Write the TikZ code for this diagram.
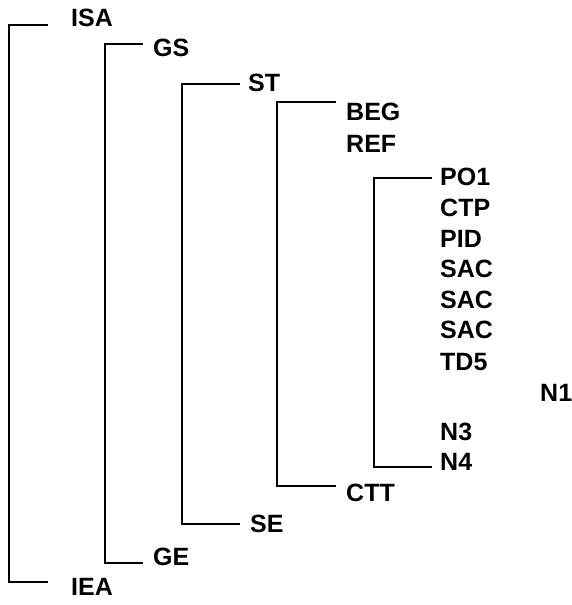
\documentclass[tikz,border=0pt]{standalone}
\usepackage{fontspec}
\setmainfont{Liberation Sans}
\begin{document}
\begin{tikzpicture}[x=1pt,y=-1pt,
  lbl/.style={anchor=west,inner sep=0pt,font=\fontsize{25}{25}\selectfont\bfseries},
  brk/.style={draw=black,line width=2pt}]
\useasboundingbox (0,0) rectangle (572,605);
% labels
\node[lbl] (isa) at (71,18) {ISA};
\node[lbl] (gs) at (153,48) {GS};
\node[lbl] (st) at (248,83) {ST};
\node[lbl] (beg) at (346,112) {BEG};
\node[lbl] (ref) at (346,144) {REF};
\node[lbl] (po1) at (440,177) {PO1};
\node[lbl] (ctp) at (440,208) {CTP};
\node[lbl] (pid) at (440,239) {PID};
\node[lbl] (sac1) at (440,269) {SAC};
\node[lbl] (sac2) at (440,300) {SAC};
\node[lbl] (sac3) at (440,330) {SAC};
\node[lbl] (td5) at (440,362) {TD5};
\node[lbl] (n1) at (540,393) {N1};
\node[lbl] (n3) at (440,432) {N3};
\node[lbl] (n4) at (440,462) {N4};
\node[lbl] (ctt) at (346,493) {CTT};
\node[lbl] (se) at (250,524) {SE};
\node[lbl] (ge) at (153,557) {GE};
\node[lbl] (iea) at (71,587) {IEA};
% bracket end points
\coordinate (b1t) at (48,25);   \coordinate (b1b) at (48,582);
\coordinate (b2t) at (143,43.5);\coordinate (b2b) at (143,563);
\coordinate (b3t) at (240,84);  \coordinate (b3b) at (240,524);
\coordinate (b4t) at (336,102); \coordinate (b4b) at (336,486);
\coordinate (b5t) at (432,178); \coordinate (b5b) at (432,467);
% brackets
\draw[brk] (b1t) -- (9,25) -- (9,582) -- (b1b);
\draw[brk] (b2t) -- (105,43.5) -- (105,563) -- (b2b);
\draw[brk] (b3t) -- (182,84) -- (182,524) -- (b3b);
\draw[brk] (b4t) -- (277,102) -- (277,486) -- (b4b);
\draw[brk] (b5t) -- (374,178) -- (374,467) -- (b5b);
\end{tikzpicture}
\end{document}
